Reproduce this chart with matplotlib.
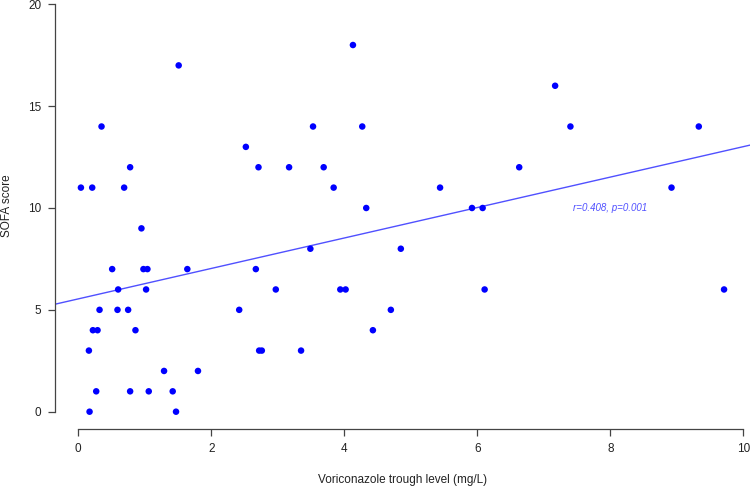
import matplotlib.pyplot as plt
import numpy as np

plt.rcParams['font.family'] = ['Liberation Sans', 'DejaVu Sans']

# voriconazole trough level (mg/L) and SOFA score
trough = [0.51, 0.60, 0.98, 1.04, 1.02, 1.64, 0.32, 0.59, 0.75, 0.22,
          0.29, 0.86, 0.16, 1.29, 1.80, 0.27, 0.78, 1.06, 1.42, 0.17,
          1.47, 2.42, 0.04, 0.21, 0.69, 0.35, 0.78, 0.95, 1.51, 2.52,
          3.49, 4.85, 2.67, 2.97, 3.94, 4.02, 6.11, 4.70, 4.43, 2.72,
          2.76, 3.35, 9.71, 4.13, 3.53, 4.27, 2.71, 3.17, 3.69, 3.84,
          5.44, 4.33, 5.92, 6.08, 7.17, 7.40, 9.33, 6.63, 8.92]
sofa = [7, 6, 7, 7, 6, 7, 5, 5, 5, 4,
        4, 4, 3, 2, 2, 1, 1, 1, 1, 0,
        0, 5, 11, 11, 11, 14, 12, 9, 17, 13,
        8, 8, 7, 6, 6, 6, 6, 5, 4, 3,
        3, 3, 6, 18, 14, 14, 12, 12, 12, 11,
        11, 10, 10, 10, 16, 14, 14, 12, 11]
xticks = [0, 2, 4, 6, 8, 10]
yticks = [0, 5, 10, 15, 20]
note = "r=0.408, p=0.001"

fig = plt.figure(figsize=(7.5, 4.87), dpi=100)
ax = fig.add_axes([0.0733, 0.1197, 0.9267, 0.8803])

ax.scatter(trough, sofa, s=22, color='#0000ff', edgecolors='none', zorder=3)

# regression line across the whole plot region
slope, inter = np.polyfit(trough, sofa, 1)
xl = np.array([-0.35, 10.1])
ax.plot(xl, inter + slope * xl, color='#5050ff', lw=1.0, zorder=2)

ax.text(7.44, 10.0, note, color='#5050ff', fontsize=7, style='italic',
        ha='left', va='center')

ax.set_xlim(-0.35, 10.1)
ax.set_ylim(-0.835, 20.21)

for s in ['top', 'right']:
    ax.spines[s].set_visible(False)
ax.spines['left'].set_bounds(0, 20)
ax.spines['bottom'].set_bounds(0, 10)
for s in ['left', 'bottom']:
    ax.spines[s].set_color('#444444')
    ax.spines[s].set_linewidth(0.9)

ax.set_xticks(xticks)
ax.set_yticks(yticks)
ax.tick_params(direction='out', length=5, width=0.9, color='#444444',
               labelsize=8.5, labelcolor='#222222', pad=5)

ax.set_xlabel('Voriconazole trough level (mg/L)', fontsize=8.5, color='#222222', labelpad=14)
ax.set_ylabel('SOFA score', fontsize=8.5, color='#222222')
ax.yaxis.set_label_coords(-0.061, 0.52)

fig.savefig('out.png', dpi=100)
